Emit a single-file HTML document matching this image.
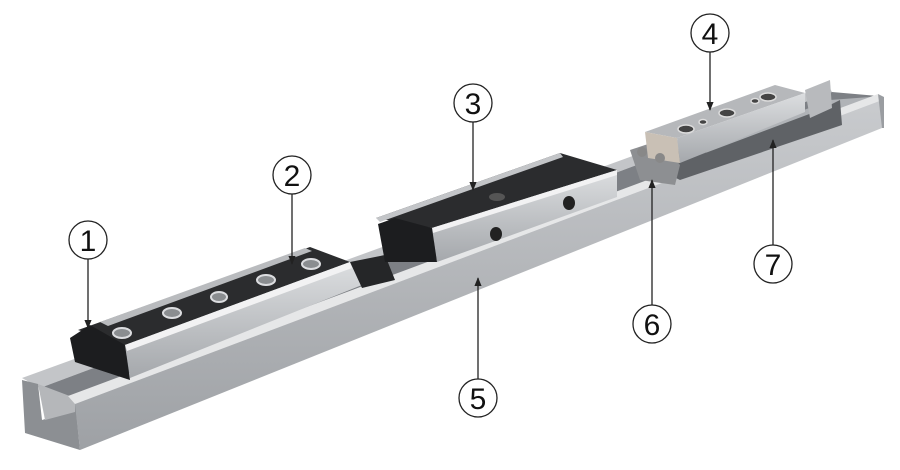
<!DOCTYPE html>
<html><head><meta charset="utf-8"><style>
html,body{margin:0;padding:0;background:#fff;width:900px;height:470px;overflow:hidden}
svg{display:block}
text{font-family:"Liberation Sans",sans-serif;font-size:30px;fill:#111}
</style></head><body>
<svg width="900" height="470" viewBox="0 0 900 470" xmlns="http://www.w3.org/2000/svg">
<defs>
<linearGradient id="rf" x1="0" y1="0" x2="0" y2="1"><stop offset="0" stop-color="#c9cbce"/><stop offset="1" stop-color="#9ea1a5"/></linearGradient>
<linearGradient id="bf" x1="0" y1="0" x2="0" y2="1"><stop offset="0" stop-color="#dcdee0"/><stop offset="1" stop-color="#a5a8ac"/></linearGradient>
<marker id="ah" viewBox="0 0 10 10" refX="9" refY="5" markerWidth="7" markerHeight="7" orient="auto"><path d="M0,1 L10,5 L0,9 z" fill="#222"/></marker>
</defs>
<!-- rail back wall & floor -->
<polygon points="22,378 828,85 832,92 40,388" fill="#c3c5c8"/>
<polygon points="40,388 832,92 878,96 75,400" fill="#7d8085"/>
<polygon points="700,150 830,100 870,97 720,158" fill="#b0b3b7"/>
<!-- rail left end face -->
<polygon points="22,380 38,384 42,420 75,410 75,400 80,450 25,433" fill="#8c8f93"/>
<polygon points="38,384 75,398 75,412 45,420" fill="#b5b7ba"/>
<!-- rail front lip & face -->
<polygon points="68,396 878,94 882,100 75,404" fill="#e6e7e8"/>
<polygon points="75,404 882,100 882,128 80,450" fill="url(#rf)"/>
<polygon points="878,94 884,97 884,128 882,128" fill="#9a9da1"/>
<!-- block 1 -->
<polygon points="78,330 310,247 350,262 125,345" fill="#2b2c2e"/>
<polygon points="100,322 305,248 312,251 108,326" fill="#b9bbbe"/>
<polygon points="125,345 350,262 362,285 130,378" fill="url(#bf)"/>
<polygon points="125,345 350,262 352,268 127,351" fill="#f2f2f3"/>
<polygon points="70,338 90,325 125,345 130,380 75,362" fill="#1c1d1f"/>
<polygon points="350,262 385,255 395,280 362,288" fill="#252628"/>
<g fill="#8a8d90" stroke="#dcdde0" stroke-width="2">
<ellipse cx="122" cy="333" rx="9" ry="5"/><ellipse cx="172" cy="313" rx="9" ry="5"/><ellipse cx="219" cy="297" rx="8" ry="5"/><ellipse cx="266" cy="280" rx="9" ry="5"/><ellipse cx="311" cy="264" rx="9" ry="5"/></g>
<!-- block 3 -->
<polygon points="376,218 560,153 617,170 432,228" fill="#2b2c2e"/>
<polygon points="376,218 560,153 563,157 380,222" fill="#c3c5c8"/>
<polygon points="432,228 617,170 617,197 437,262" fill="url(#bf)"/>
<polygon points="432,228 617,170 617,175 433,233" fill="#f2f2f3"/>
<polygon points="378,224 395,218 432,228 437,262 385,262" fill="#1c1d1f"/>
<ellipse cx="496" cy="234" rx="6" ry="7" fill="#222"/><ellipse cx="569" cy="203" rx="6" ry="7" fill="#222"/>
<ellipse cx="497" cy="197" rx="8" ry="4" fill="#555"/>
<!-- block 4 rollers & end -->
<polygon points="660,170 820,110 840,100 842,125 680,180" fill="#5f6266"/>
<polygon points="805,90 830,80 832,108 810,118" fill="#b8babd"/>
<polygon points="630,150 660,140 680,165 675,185 640,180" fill="#8d8f92"/>
<!-- block 4 -->
<polygon points="645,132 775,85 805,93 677,138" fill="#b6b8bb"/>
<polygon points="677,138 805,93 805,112 680,163" fill="url(#bf)"/>
<polygon points="645,132 677,138 680,163 648,158" fill="#c9c0b5"/>
<circle cx="642" cy="152" r="5" fill="#888"/><circle cx="660" cy="158" r="5" fill="#888"/>
<g fill="#444" stroke="#ddd" stroke-width="1.5"><ellipse cx="686" cy="129" rx="8" ry="4"/><ellipse cx="727" cy="113" rx="8" ry="4"/><ellipse cx="768" cy="97" rx="8" ry="4"/><ellipse cx="703" cy="122" rx="4" ry="2.5"/><ellipse cx="755" cy="101" rx="4" ry="2.5"/></g>
<!-- callouts -->
<g stroke="#222" stroke-width="1.3" fill="#fff">
<circle cx="88" cy="240" r="19"/><circle cx="292" cy="175" r="19"/><circle cx="473" cy="103" r="19"/><circle cx="710" cy="33" r="19"/><circle cx="478" cy="398" r="19"/><circle cx="652" cy="324" r="19"/><circle cx="773" cy="264" r="19"/>
</g>
<g stroke="#222" stroke-width="1.3" marker-end="url(#ah)">
<line x1="88" y1="259" x2="88" y2="328"/><line x1="292" y1="194" x2="292" y2="264"/><line x1="473" y1="122" x2="473" y2="190"/><line x1="710" y1="52" x2="710" y2="110"/>
<line x1="478" y1="379" x2="478" y2="278"/><line x1="652" y1="305" x2="652" y2="180"/><line x1="773" y1="245" x2="773" y2="140"/>
</g>
<g text-anchor="middle">
<text x="88" y="251">1</text><text x="292" y="186">2</text><text x="473" y="114">3</text><text x="710" y="44">4</text><text x="478" y="409">5</text><text x="652" y="335">6</text><text x="773" y="275">7</text>
</g>
</svg>
</body></html>
